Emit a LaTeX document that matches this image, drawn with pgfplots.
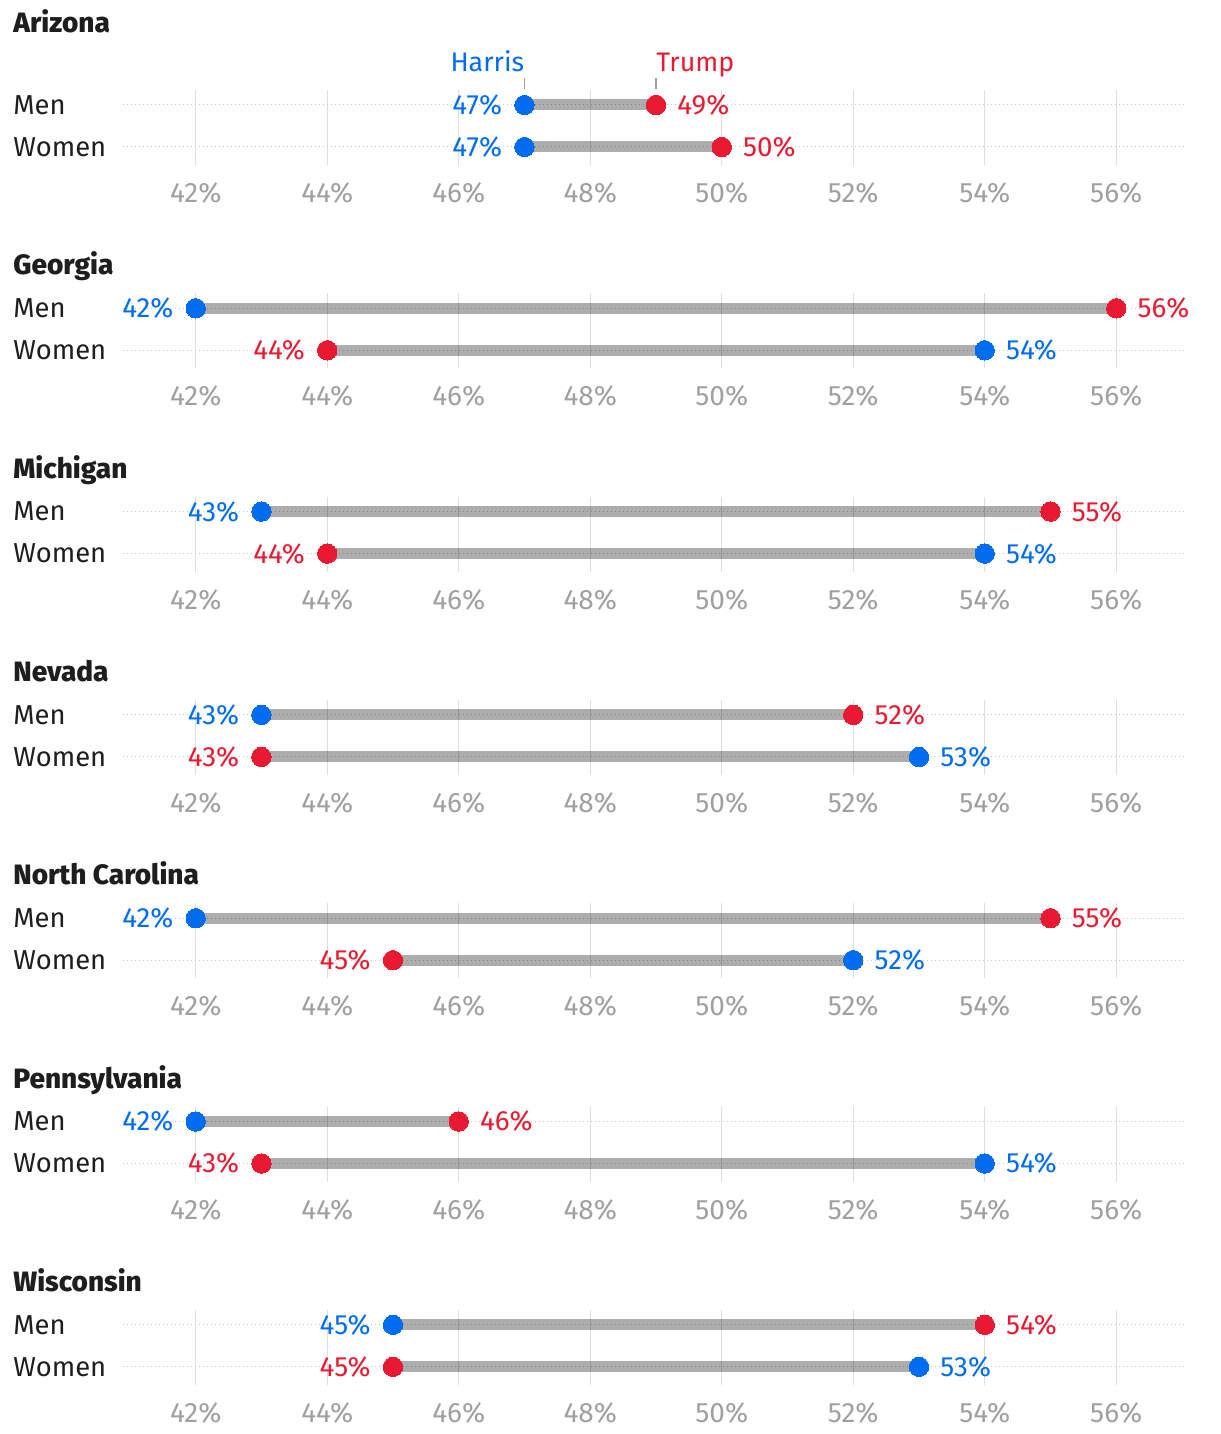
\documentclass[border=0pt]{standalone}
\usepackage{pgfplots}
\pgfplotsset{compat=1.18}
\usepackage{fontspec}
\setmainfont{Fira Sans}
\newfontfamily\ttlfont{Fira Sans ExtraBold}
\definecolor{harris}{RGB}{0,108,240}
\definecolor{trump}{RGB}{232,25,48}
\definecolor{tickgray}{RGB}{160,160,160}
\definecolor{gridgray}{RGB}{222,222,222}
\definecolor{dotgray}{RGB}{200,200,200}
\definecolor{ink}{RGB}{30,30,30}

\pgfplotsset{panel/.style={
  scale only axis, width=532pt, height=37.5pt,
  xmin=40.894, xmax=57.076, ymin=-0.4286, ymax=1.357,
  xtick={42,44,...,56}, ytick={0,1}, yticklabels={},
  xticklabel={\pgfmathprintnumber{\tick}\%},
  /pgf/number format/assume math mode=true,
  xmajorgrids, ymajorgrids,
  x grid style={gridgray, line width=0.7pt},
  y grid style={dotgray, line width=0.5pt, dash pattern=on 0.5pt off 1.5pt},
  axis line style={draw=none}, major tick length=0pt,
  xticklabel style={font=\fontsize{14}{16}\selectfont, text=tickgray, anchor=center, yshift=-14pt, inner sep=0pt},
  clip=false,
  anchor=south west,
},
bar/.style={line width=5.5pt, black, opacity=0.32, line cap=butt},
hdot/.style={harris, only marks, mark=*, mark size=4.85pt, mark options={draw=harris, fill=harris, line width=0pt}},
tdot/.style={trump, only marks, mark=*, mark size=4.85pt, mark options={draw=trump, fill=trump, line width=0pt}},
}
\tikzset{
  lab/.style={inner sep=0pt, font=\fontsize{13.9}{16}\selectfont},
  rowlab/.style={inner sep=0pt, anchor=west, text=ink, font=\fontsize{13.7}{16}\selectfont, xshift=-55pt},
  ttl/.style={inner sep=0pt, anchor=base west, text=ink, font=\ttlfont\fontsize{14}{16}\selectfont, xshift=-55pt},
}

% #1 title, #2 bottom (pt), #3 men Harris, #4 men Trump, #5 women Harris, #6 women Trump, #7 title shift, #8 extra
\newcommand{\panel}[8]{%
\begin{axis}[panel, at={(61.5pt,-#2pt)}]
  \addplot[bar] coordinates {(#3,1) (#4,1)};
  \addplot[bar] coordinates {(#5,0) (#6,0)};
  \addplot[hdot] coordinates {(#3,1) (#5,0)};
  \addplot[tdot] coordinates {(#4,1) (#6,0)};
  \ifnum#3<#4
    \node[lab, text=harris, anchor=east, xshift=-11pt] at (axis cs:#3,1) {#3\%};
    \node[lab, text=trump, anchor=west, xshift=10.5pt] at (axis cs:#4,1) {#4\%};
  \else
    \node[lab, text=harris, anchor=west, xshift=10.5pt] at (axis cs:#3,1) {#3\%};
    \node[lab, text=trump, anchor=east, xshift=-11pt] at (axis cs:#4,1) {#4\%};
  \fi
  \ifnum#5<#6
    \node[lab, text=harris, anchor=east, xshift=-11pt] at (axis cs:#5,0) {#5\%};
    \node[lab, text=trump, anchor=west, xshift=10.5pt] at (axis cs:#6,0) {#6\%};
  \else
    \node[lab, text=harris, anchor=west, xshift=10.5pt] at (axis cs:#5,0) {#5\%};
    \node[lab, text=trump, anchor=east, xshift=-11pt] at (axis cs:#6,0) {#6\%};
  \fi
  \node[rowlab] at (axis cs:40.894,1) {Men};
  \node[rowlab] at (axis cs:40.894,0) {Women};
  \node[ttl, yshift=#7] at (axis cs:40.894,1) {#1};
  #8
\end{axis}}

\begin{document}
\begin{tikzpicture}
\path[use as bounding box] (0,0) rectangle (610pt,-717pt);
\panel{Arizona}{82.5}{47}{49}{47}{50}{36.4pt}{%
  \node[lab, anchor=base east, text=harris, yshift=16.5pt, font=\fontsize{13.4}{16}\selectfont] at (axis cs:47,1) {Harris};
  \node[lab, anchor=base west, text=trump, yshift=16.5pt, font=\fontsize{13.4}{16}\selectfont] at (axis cs:49,1) {Trump};
  \draw[tickgray, line width=0.6pt] ([yshift=7.9pt]axis cs:47,1) -- ([yshift=13.4pt]axis cs:47,1);
  \draw[tickgray, line width=0.6pt] ([yshift=7.9pt]axis cs:49,1) -- ([yshift=13.4pt]axis cs:49,1);
}
\panel{Georgia}{184.15}{42}{56}{54}{44}{16.75pt}{}
\panel{Michigan}{285.8}{43}{55}{54}{44}{16.75pt}{}
\panel{Nevada}{387.45}{43}{52}{53}{43}{16.75pt}{}
\panel{North Carolina}{489.1}{42}{55}{52}{45}{16.75pt}{}
\panel{Pennsylvania}{590.75}{42}{46}{54}{43}{16.75pt}{}
\panel{Wisconsin}{692.4}{45}{54}{53}{45}{16.75pt}{}
\end{tikzpicture}
\end{document}
